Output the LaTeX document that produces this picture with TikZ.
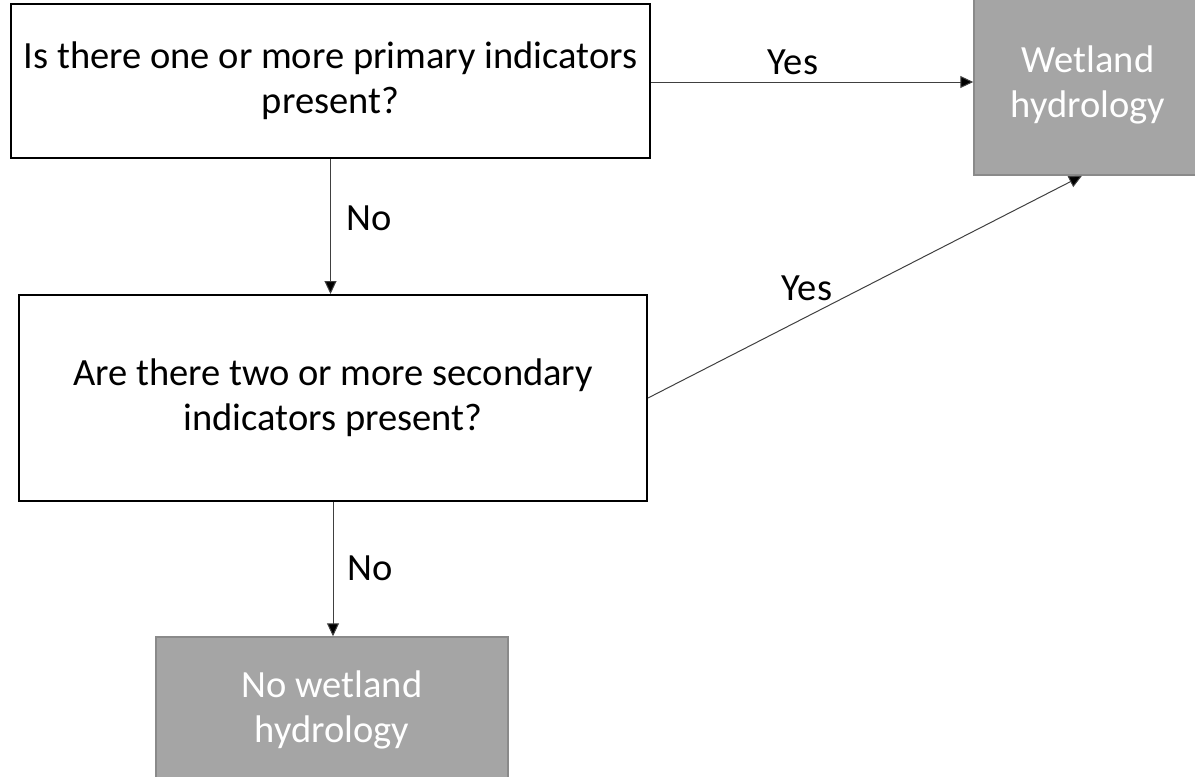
\documentclass[tikz,border=0pt]{standalone}
\usepackage{fontspec}
\setmainfont{Carlito}
\usetikzlibrary{arrows.meta,calc}
\definecolor{boxgrey}{HTML}{A5A5A5}
\definecolor{boxedge}{HTML}{8A8A8A}
\definecolor{linegrey}{HTML}{404040}
\begin{document}
\begin{tikzpicture}[x=1pt,y=-1pt,
  every node/.style={font=\fontsize{38.5}{45}\selectfont},
  qbox/.style={draw=black,line width=2pt,fill=white,align=center,inner sep=0pt},
  gbox/.style={draw=boxedge,line width=1.5pt,fill=boxgrey,text=white,align=center,inner sep=0pt},
  conn/.style={draw=linegrey,line width=1pt,-{Triangle[length=13pt,width=12pt,fill=black]}},
  lbl/.style={text=black,inner sep=0pt}]
\useasboundingbox (0,0) rectangle (1195,777);
\node[qbox,minimum width=639pt,minimum height=154pt] (b1) at (330.5,81) {Is there one or more primary indicators\\present?};
\node[qbox,minimum width=628pt,minimum height=206pt] (b2) at (333,398) {Are there two or more secondary\\indicators present?};
\node[gbox,minimum width=228pt,minimum height=180pt] (g1) at (1088,85) {Wetland\\hydrology};
\node[gbox,minimum width=352pt,minimum height=146pt] (g4) at (332,710) {No wetland\\hydrology};
\draw[conn] (b1.east |- 0,82) -- (g1.west |- 0,82);
\draw[conn] (b1.south) -- (b1.south |- b2.north);
\draw[conn] (b2.east) -- ($(g1.south)+(-6,0)$);
\draw[conn] (b2.south) -- (b2.south |- g4.north);
\node[lbl] (y1) at (793,62) {Yes};
\node[lbl] (n1) at (369,218) {No};
\node[lbl] (y2) at (807,288) {Yes};
\node[lbl] (n2) at (370,568) {No};
\end{tikzpicture}
\end{document}
